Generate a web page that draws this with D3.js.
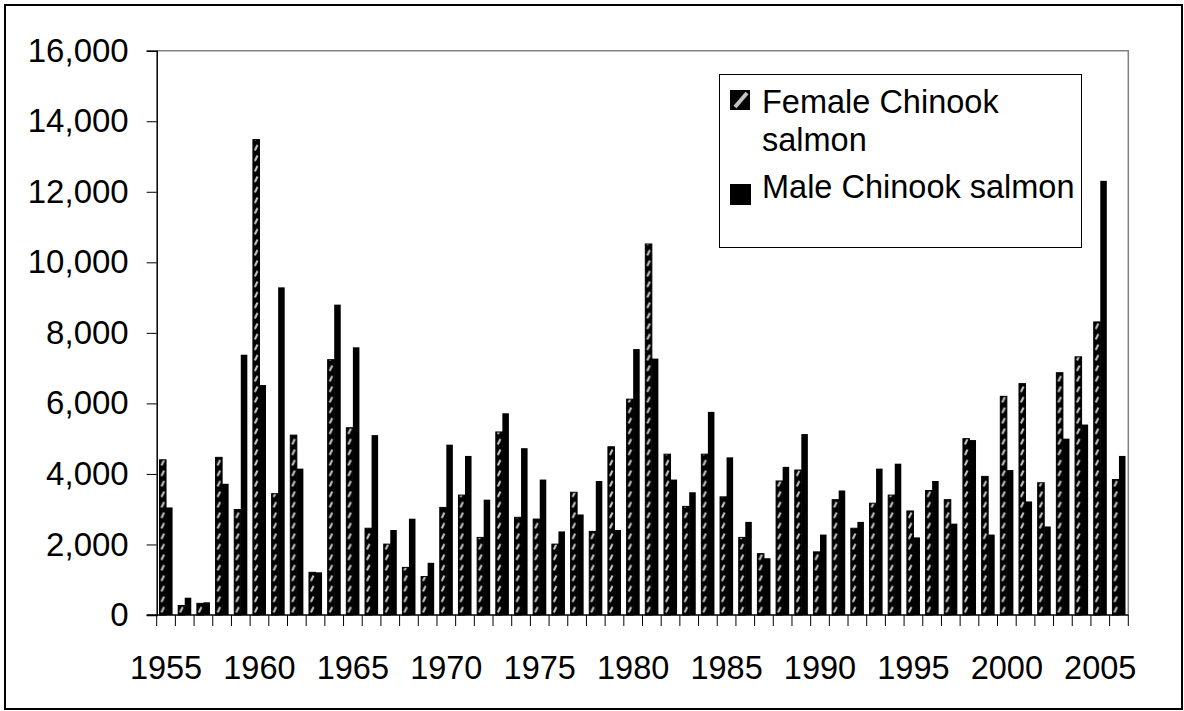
<!DOCTYPE html>
<html lang="en">
<head>
    <meta charset="UTF-8">
    <title>Chinook salmon</title>
    <script src="https://cdn.jsdelivr.net/npm/d3@7/dist/d3.min.js"></script>
    <style>
        body { margin: 0; background: #fff; }
        text { font-family: "Liberation Sans", Arial, sans-serif; }
    </style>
</head>
<body>
<script>
    // years 1955-2006
    var years = d3.range(1955, 2007);
    var female = [4400, 270, 330, 4470, 2990, 13480, 3440, 5100, 1210, 7240,
        5310, 2460, 2010, 1350, 1090, 3050, 3400, 2200, 5190, 2770,
        2720, 2010, 3480, 2370, 4770, 6120, 10520, 4560, 3080, 4560,
        3350, 2200, 1740, 3800, 4110, 1790, 3270, 2460, 3170, 3400,
        2950, 3530, 3270, 5000, 3930, 6200, 6560, 3750, 6870, 7320,
        8310, 3840];
    var male = [3050, 490, 360, 3720, 7380, 6520, 9290, 4150, 1210, 8800,
        7590, 5100, 2410, 2730, 1480, 4830, 4510, 3270, 5720, 4730,
        3840, 2370, 2850, 3800, 2410, 7540, 7270, 3840, 3480, 5760,
        4470, 2640, 1610, 4200, 5130, 2280, 3530, 2640, 4150, 4290,
        2200, 3800, 2590, 4960, 2280, 4110, 3220, 2510, 5000, 5400,
        12310, 4510];
    var yTicks = [0, 2000, 4000, 6000, 8000, 10000, 12000, 14000, 16000];
    var xLabels = [1955, 1960, 1965, 1970, 1975, 1980, 1985, 1990, 1995, 2000, 2005];
    var seriesNames = ["Female Chinook salmon", "Male Chinook salmon"];

    var W = 1184, H = 711;
    // plot area (note: "top" is reserved on window, so use pTop etc.)
    var pLeft = 156.7, pTop = 50.7, pRight = 1128.3, pBottom = 615;

    var svg = d3.select("body").append("svg")
        .attr("width", W)
        .attr("height", H);

    // outer frame
    svg.append("rect")
        .attr("x", 5).attr("y", 5)
        .attr("width", 1177).attr("height", 704)
        .attr("fill", "none")
        .attr("stroke", "#000")
        .attr("stroke-width", 2);

    var x = d3.scaleBand()
        .domain(years)
        .range([pLeft, pRight])
        .paddingInner(0.3)
        .paddingOuter(0.15);
    var sub = d3.scaleBand()
        .domain([0, 1])
        .range([0, x.bandwidth()]);
    var y = d3.scaleLinear()
        .domain([0, 16000])
        .range([pBottom, pTop]);

    // hatch pattern for female bars, one tile per category
    var step = x.step();
    var defs = svg.append("defs");
    var pat = defs.append("pattern")
        .attr("id", "hatch")
        .attr("patternUnits", "userSpaceOnUse")
        .attr("x", pLeft)
        .attr("y", pBottom)
        .attr("width", step)
        .attr("height", 10.5);
    pat.append("rect")
        .attr("width", step).attr("height", 10.5)
        .attr("fill", "#000");
    var cx = step * 0.15 + sub.bandwidth() / 2;
    pat.append("line")
        .attr("x1", cx - 1.3).attr("y1", 8)
        .attr("x2", cx + 1.3).attr("y2", 2.5)
        .attr("stroke", "#c4c4c4")
        .attr("stroke-width", 2.2);

    // plot frame top/right
    svg.append("path")
        .attr("d", "M" + pLeft + "," + pTop + "H" + pRight + "V" + pBottom)
        .attr("fill", "none")
        .attr("stroke", "#808080")
        .attr("stroke-width", 1.5);

    // bars
    var bars = svg.append("g");
    bars.selectAll(".f")
        .data(female)
        .enter()
        .append("rect")
        .attr("x", function (d, i) { return x(years[i]) + sub(0); })
        .attr("y", function (d) { return y(d); })
        .attr("width", sub.bandwidth())
        .attr("height", function (d) { return pBottom - y(d); })
        .attr("fill", "url(#hatch)")
        .attr("stroke", "#000")
        .attr("stroke-width", 1);
    bars.selectAll(".m")
        .data(male)
        .enter()
        .append("rect")
        .attr("x", function (d, i) { return x(years[i]) + sub(1); })
        .attr("y", function (d) { return y(d); })
        .attr("width", sub.bandwidth())
        .attr("height", function (d) { return pBottom - y(d); })
        .attr("fill", "#000");

    // y axis
    var yAxis = svg.append("g")
        .attr("transform", "translate(" + pLeft + ",0)")
        .call(d3.axisLeft(y)
            .tickValues(yTicks)
            .tickFormat(d3.format(","))
            .tickSize(10)
            .tickPadding(18));
    yAxis.selectAll("text")
        .attr("font-size", "33px")
        .attr("fill", "#000")
        .style("font-family", "'Liberation Sans', Arial, sans-serif");
    yAxis.selectAll("line").attr("stroke", "#000");
    yAxis.select(".domain").attr("stroke", "#000").attr("stroke-width", 1.5);

    // x axis: line, ticks at category boundaries, labels every 5 years
    var xg = svg.append("g");
    xg.append("line")
        .attr("x1", pLeft - 10).attr("x2", pRight)
        .attr("y1", pBottom).attr("y2", pBottom)
        .attr("stroke", "#000")
        .attr("stroke-width", 1.5);
    var bounds = years.map(function (d) { return x(d) - x.step() * x.paddingOuter(); });
    bounds.push(pRight);
    xg.selectAll(".tk")
        .data(bounds)
        .enter()
        .append("line")
        .attr("x1", function (d) { return d; })
        .attr("x2", function (d) { return d; })
        .attr("y1", pBottom)
        .attr("y2", pBottom + 11)
        .attr("stroke", "#000");
    xg.selectAll(".lb")
        .data(xLabels)
        .enter()
        .append("text")
        .attr("x", function (d) { return x(d) + x.bandwidth() / 2; })
        .attr("y", 679)
        .attr("text-anchor", "middle")
        .attr("font-size", "32.5px")
        .text(function (d) { return d; });

    // legend
    var lg = svg.append("g");
    lg.append("rect")
        .attr("x", 719.5).attr("y", 74.5)
        .attr("width", 362).attr("height", 173)
        .attr("fill", "#fff")
        .attr("stroke", "#000")
        .attr("stroke-width", 1);
    lg.append("rect")
        .attr("x", 730.5).attr("y", 90.5)
        .attr("width", 19).attr("height", 19)
        .attr("fill", "#000")
        .attr("stroke", "#000");
    lg.append("line")
        .attr("x1", 735).attr("y1", 107)
        .attr("x2", 747).attr("y2", 93)
        .attr("stroke", "#c4c4c4")
        .attr("stroke-width", 4);
    lg.append("rect")
        .attr("x", 730).attr("y", 184)
        .attr("width", 21).attr("height", 21)
        .attr("fill", "#000");
    lg.append("text")
        .attr("x", 762).attr("y", 112.5)
        .attr("font-size", "32.5px")
        .text("Female Chinook");
    lg.append("text")
        .attr("x", 762).attr("y", 150.5)
        .attr("font-size", "32.5px")
        .text("salmon");
    lg.append("text")
        .attr("x", 762).attr("y", 198)
        .attr("font-size", "32.5px")
        .text(seriesNames[1]);
</script>
</body>
</html>
